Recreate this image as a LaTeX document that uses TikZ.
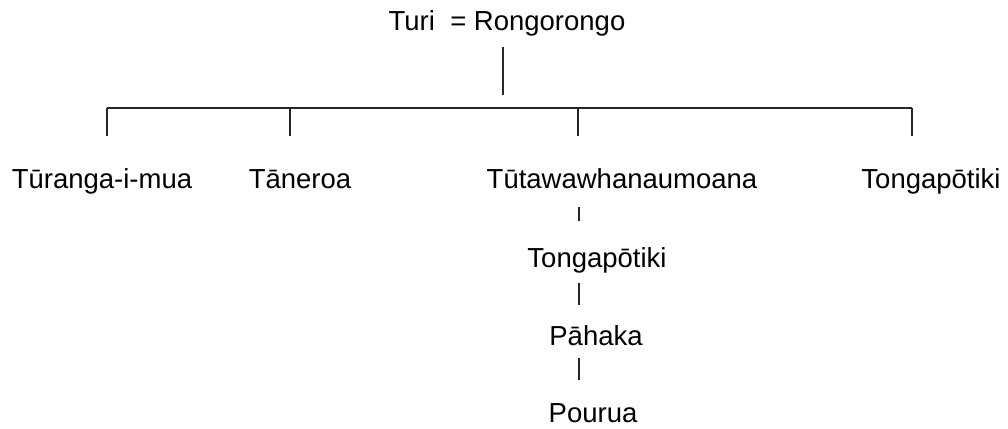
\documentclass[tikz,border=0pt]{standalone}
\usepackage{fontspec}
\setmainfont{Liberation Sans}
\begin{document}
\begin{tikzpicture}[x=1pt,y=-1pt,
  lbl/.style={anchor=base,inner sep=0pt,font=\fontsize{27.5}{33}\selectfont},
  ln/.style={line width=1.3pt,draw=black!85}]
\useasboundingbox (0,0) rectangle (1008,428);
% title
\node[lbl] (turi) at (507,31) {Turi\ \ = Rongorongo};
\coordinate (d0) at (503,47);
\coordinate (d1) at (503,95);
\draw[ln] (d0) -- (d1);
% sibling bar
\coordinate (h1) at (107,108);
\coordinate (h2) at (290,108);
\coordinate (h3) at (578,108);
\coordinate (h4) at (912,108);
\draw[ln] (h1) -- (h4);
\coordinate (t1) at (107,136);
\coordinate (t2) at (290,136);
\coordinate (t3) at (578,136);
\coordinate (t4) at (912,136);
\draw[ln] (h1) -- (t1);
\draw[ln] (h2) -- (t2);
\draw[ln] (h3) -- (t3);
\draw[ln] (h4) -- (t4);
% children
\node[lbl] (tur) at (102,188) {Tūranga-i-mua};
\node[lbl] (tan) at (300,188) {Tāneroa};
\node[lbl] (tut) at (622,188) {Tūtawawhanaumoana};
\node[lbl] (ton) at (931,188) {Tongapōtiki};
% descent line
\node[lbl] (ton2) at (597,267) {Tongapōtiki};
\node[lbl] (pah) at (596,345) {Pāhaka};
\node[lbl] (pou) at (593,422) {Pourua};
\coordinate (c1a) at (579,207); \coordinate (c1b) at (579,221);
\coordinate (c2a) at (579,283); \coordinate (c2b) at (579,305);
\coordinate (c3a) at (579,358); \coordinate (c3b) at (579,380);
\draw[ln] (c1a) -- (c1b);
\draw[ln] (c2a) -- (c2b);
\draw[ln] (c3a) -- (c3b);
\end{tikzpicture}
\end{document}
